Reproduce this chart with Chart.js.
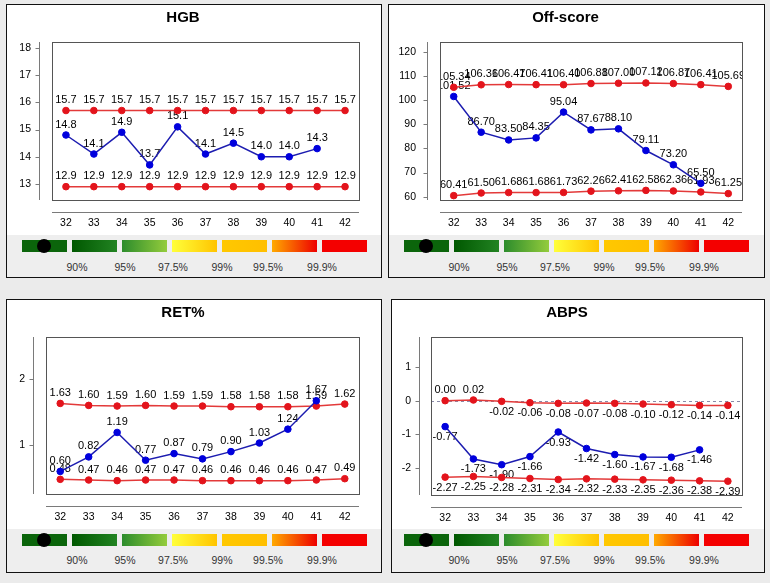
<!DOCTYPE html>
<html>
<head>
<meta charset="utf-8">
<script src="https://cdn.jsdelivr.net/npm/chart.js@4.4.1/dist/chart.umd.min.js"></script>
<style>
  body { margin: 0; width: 770px; height: 583px; background: #ebebeb; position: relative; overflow: hidden;
         font-family: 'Liberation Sans', Arial, sans-serif; }
  .panel { position: absolute; box-sizing: border-box; border: 1px solid #111; background: #fff; }
  .panel canvas { display: block; }
  .strip { position: absolute; left: 0; right: 0; bottom: 0; background: #eeeeee; }
  .bar { position: absolute; width: 45px; height: 12px; }
  .dot { position: absolute; width: 14px; height: 14px; border-radius: 50%; background: #000; }
  .pct { position: absolute; font-size: 10.5px; line-height: 12px; color: #333; white-space: nowrap; transform: translateX(-50%); }
</style>
</head>
<body>
<script>
// gestational week categories
const weeks = ['32', '33', '34', '35', '36', '37', '38', '39', '40', '41', '42'];

// HGB
const hgbUpper = [15.7, 15.7, 15.7, 15.7, 15.7, 15.7, 15.7, 15.7, 15.7, 15.7, 15.7];
const hgbValues = [14.8, 14.1, 14.9, 13.7, 15.1, 14.1, 14.5, 14.0, 14.0, 14.3, null];
const hgbLower = [12.9, 12.9, 12.9, 12.9, 12.9, 12.9, 12.9, 12.9, 12.9, 12.9, 12.9];
const hgbTicks = [13, 14, 15, 16, 17, 18];

// Off-score
const offUpper = [105.34, 106.36, 106.47, 106.41, 106.40, 106.88, 107.00, 107.12, 106.87, 106.41, 105.69];
const offValues = [101.52, 86.70, 83.50, 84.35, 95.04, 87.67, 88.10, 79.11, 73.20, 65.50, null];
const offLower = [60.41, 61.50, 61.68, 61.68, 61.73, 62.26, 62.41, 62.58, 62.36, 61.93, 61.25];
const offTicks = [60, 70, 80, 90, 100, 110, 120];

// RET%
const retUpper = [1.63, 1.60, 1.59, 1.60, 1.59, 1.59, 1.58, 1.58, 1.58, 1.59, 1.62];
const retValues = [0.60, 0.82, 1.19, 0.77, 0.87, 0.79, 0.90, 1.03, 1.24, 1.67, null];
const retLower = [0.48, 0.47, 0.46, 0.47, 0.47, 0.46, 0.46, 0.46, 0.46, 0.47, 0.49];
const retTicks = [1, 2];

// ABPS
const abpsUpper = [0.00, 0.02, -0.02, -0.06, -0.08, -0.07, -0.08, -0.10, -0.12, -0.14, -0.14];
const abpsValues = [-0.77, -1.73, -1.90, -1.66, -0.93, -1.42, -1.60, -1.67, -1.68, -1.46, null];
const abpsLower = [-2.27, -2.25, -2.28, -2.31, -2.34, -2.32, -2.33, -2.35, -2.36, -2.38, -2.39];
const abpsTicks = [-2, -1, 0, 1];

// percentile scale under each chart
const legendLabels = ['90%', '95%', '97.5%', '99%', '99.5%', '99.9%'];

const FONT = "'Liberation Sans', Arial, sans-serif";
Chart.defaults.font.family = FONT;
Chart.defaults.color = '#000';

const legendFills = [
  '#0b650b',
  'linear-gradient(to right, #005800, #228322)',
  'linear-gradient(to right, #2c8c2c, #94cc3c)',
  'linear-gradient(to right, #ffff3a, #ffc400)',
  'linear-gradient(to right, #ffc800, #ffbf00)',
  'linear-gradient(to right, #ffaa00, #ee0000)',
  '#f40000'
];
const legendOffsets = [55, 103, 151, 200, 246, 300];

const framePlugin = {
  id: 'frame',
  beforeDatasetsDraw(chart, args, opts) {
    const {ctx, chartArea: a} = chart;
    const y = chart.scales.y;
    ctx.save();
    if (opts.zeroLine) {
      const py = Math.round(y.getPixelForValue(0)) + 0.5;
      ctx.strokeStyle = '#8a8aa8';
      ctx.lineWidth = 1;
      ctx.setLineDash([3, 3]);
      ctx.beginPath();
      ctx.moveTo(a.left, py);
      ctx.lineTo(a.right, py);
      ctx.stroke();
      ctx.setLineDash([]);
    }
    ctx.beginPath();
    ctx.rect(a.left, a.top, a.right - a.left, a.bottom - a.top);
    ctx.clip();
    ctx.font = '11px ' + FONT;
    ctx.fillStyle = '#000';
    ctx.textAlign = 'center';
    ctx.textBaseline = 'middle';
    chart.data.datasets.forEach((ds, i) => {
      chart.getDatasetMeta(i).data.forEach((pt, j) => {
        const v = ds.data[j];
        if (v === null || v === undefined) return;
        ctx.fillText(v.toFixed(opts.decimals), pt.x, v >= 0 ? pt.y - 10.5 : pt.y + 10.5);
      });
    });
    ctx.restore();
  },
  afterDraw(chart, args, opts) {
    const {ctx, chartArea: a} = chart;
    const y = chart.scales.y;
    ctx.save();
    ctx.lineWidth = 1;
    // plot box
    ctx.strokeStyle = '#555';
    ctx.strokeRect(Math.round(a.left) + 0.5, Math.round(a.top) + 0.5,
                   Math.round(a.right - a.left), Math.round(a.bottom - a.top));
    // detached axes
    ctx.strokeStyle = '#7a7a7a';
    const ax = Math.round(a.left - opts.axisGap) + 0.5;
    const ay = Math.round(a.bottom + 12) + 0.5;
    ctx.beginPath();
    ctx.moveTo(ax, a.top);
    ctx.lineTo(ax, a.bottom);
    y.ticks.forEach(t => {
      const py = Math.round(y.getPixelForValue(t.value)) + 0.5;
      ctx.moveTo(ax - 4, py);
      ctx.lineTo(ax, py);
    });
    ctx.moveTo(a.left, ay);
    ctx.lineTo(a.right, ay);
    ctx.stroke();
    ctx.restore();
  }
};

function series(data, color, lineColor) {
  return {
    data: data,
    borderColor: lineColor,
    backgroundColor: color,
    pointBackgroundColor: color,
    pointBorderColor: color,
    borderWidth: 1.5,
    pointRadius: 3.3,
    pointBorderWidth: 1,
    fill: false,
    tension: 0,
    clip: false
  };
}

function makePanel(p) {
  const panel = document.createElement('div');
  panel.className = 'panel';
  panel.style.left = p.left + 'px';
  panel.style.top = p.top + 'px';
  panel.style.width = p.width + 'px';
  panel.style.height = p.height + 'px';
  document.body.appendChild(panel);

  const canvas = document.createElement('canvas');
  canvas.width = p.width - 2;
  canvas.height = p.canvasHeight;
  panel.appendChild(canvas);

  const strip = document.createElement('div');
  strip.className = 'strip';
  strip.style.height = (p.height - 2 - p.canvasHeight) + 'px';
  panel.appendChild(strip);
  legendFills.forEach((fill, i) => {
    const b = document.createElement('div');
    b.className = 'bar';
    b.style.left = (p.barLeft + i * 50) + 'px';
    b.style.top = '5px';
    b.style.background = fill;
    strip.appendChild(b);
  });
  const dot = document.createElement('div');
  dot.className = 'dot';
  dot.style.left = (p.barLeft + 15) + 'px';
  dot.style.top = '4px';
  strip.appendChild(dot);
  legendLabels.forEach((txt, i) => {
    const l = document.createElement('div');
    l.className = 'pct';
    l.textContent = txt;
    l.style.left = (p.barLeft + legendOffsets[i]) + 'px';
    l.style.top = p.labelTop + 'px';
    strip.appendChild(l);
  });

  new Chart(canvas, {
    type: 'line',
    data: {
      labels: weeks,
      datasets: [
        series(p.values, '#0000dd', '#1c1cb0'),
        series(p.upper, '#e3141c', '#e33a3a'),
        series(p.lower, '#e3141c', '#e33a3a')
      ]
    },
    options: {
      responsive: false,
      animation: false,
      devicePixelRatio: 1,
      layout: { padding: { left: 0, right: p.rightPad, top: 0, bottom: 0 } },
      plugins: {
        legend: { display: false },
        tooltip: { enabled: false },
        title: {
          display: true,
          text: p.title,
          color: '#000',
          font: { size: 15, weight: 'bold', family: FONT },
          padding: { top: 4, bottom: 15 }
        },
        frame: { decimals: p.decimals, axisGap: p.axisGap, zeroLine: p.zeroLine }
      },
      scales: {
        x: {
          type: 'category',
          offset: true,
          grid: { display: false, drawTicks: false },
          border: { display: false },
          ticks: { padding: 17, maxRotation: 0, autoSkip: false, color: '#000', font: { size: 10.5 } },
          afterFit(s) { s.height = p.xHeight; }
        },
        y: {
          min: p.min,
          max: p.max,
          grid: { display: false, drawTicks: false },
          border: { display: false },
          ticks: { padding: p.yPad, color: '#000', font: { size: 10.5 } },
          afterBuildTicks(s) { s.ticks = p.ticks.map(v => ({ value: v })); },
          afterFit(s) { s.width = p.yWidth; }
        }
      }
    },
    plugins: [framePlugin]
  });
}

makePanel({ title: 'HGB', left: 6, top: 4, width: 376, height: 274, canvasHeight: 230,
  upper: hgbUpper, values: hgbValues, lower: hgbLower, ticks: hgbTicks, min: 12.41, max: 18.22,
  decimals: 1, yWidth: 45, yPad: 21, rightPad: 22, xHeight: 35, axisGap: 13, barLeft: 15, labelTop: 26 });

makePanel({ title: 'Off-score', left: 388, top: 4, width: 377, height: 274, canvasHeight: 230,
  upper: offUpper, values: offValues, lower: offLower, ticks: offTicks, min: 58.6, max: 124.1,
  decimals: 2, yWidth: 51, yPad: 24, rightPad: 22, xHeight: 35, axisGap: 13, barLeft: 15, labelTop: 26 });

makePanel({ title: 'RET%', left: 6, top: 299, width: 376, height: 274, canvasHeight: 229,
  upper: retUpper, values: retValues, lower: retLower, ticks: retTicks, min: 0.258, max: 2.636,
  decimals: 2, yWidth: 39, yPad: 21, rightPad: 22, xHeight: 35, axisGap: 13, barLeft: 15, labelTop: 25 });

makePanel({ title: 'ABPS', left: 391, top: 299, width: 374, height: 274, canvasHeight: 229,
  upper: abpsUpper, values: abpsValues, lower: abpsLower, ticks: abpsTicks, min: -2.80, max: 1.89,
  decimals: 2, yWidth: 39, yPad: 20, rightPad: 22, xHeight: 34, axisGap: 12, barLeft: 12, labelTop: 25, zeroLine: true });
</script>
</body>
</html>
